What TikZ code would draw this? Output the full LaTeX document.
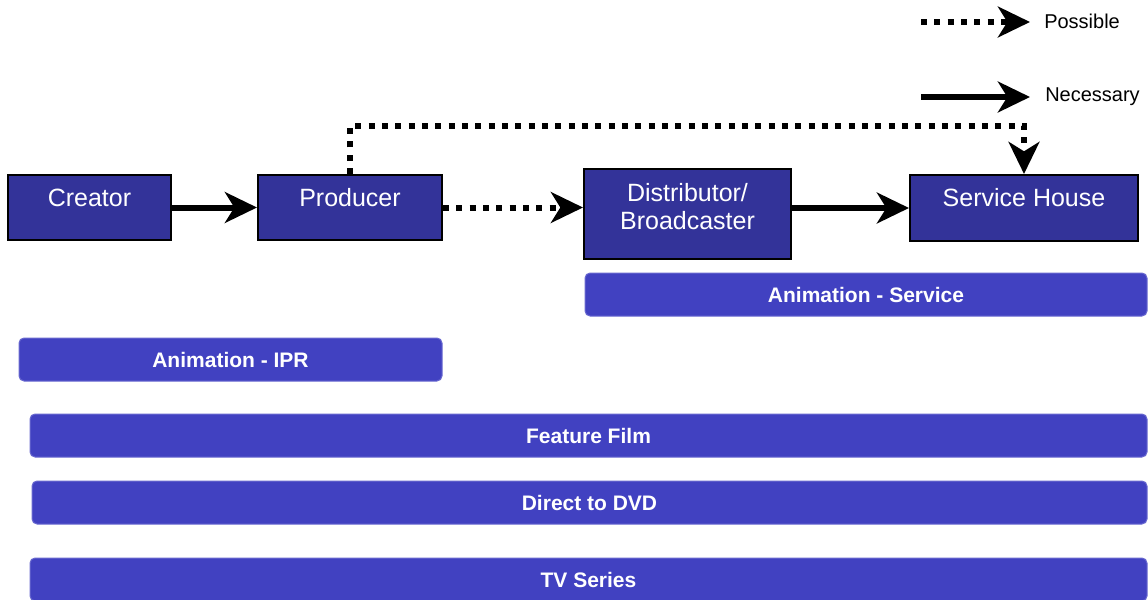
\documentclass[tikz,border=0pt]{standalone}
\usepackage{fontspec}
\setmainfont{Liberation Sans}
\usetikzlibrary{arrows.meta}

\definecolor{stageblue}{HTML}{333399}
\definecolor{barblue}{HTML}{4141C1}
\definecolor{baredge}{HTML}{6A6AD0}

\tikzset{
  stage/.style={draw=black, line width=1.5pt, fill=stageblue, text=white,
    font=\fontsize{18.75pt}{21pt}\selectfont, inner sep=0pt,
    text height=13.5pt, text depth=15.75pt, minimum height=48.75pt},
  bar/.style={draw=baredge, line width=0.75pt, fill=barblue, rounded corners=3.75pt,
    text=white, font=\fontsize{15.75pt}{18pt}\selectfont\bfseries,
    minimum height=32.25pt, inner sep=0pt},
  must/.style={line width=4.5pt, -{Stealth[length=24pt, width=23pt, inset=7pt]}},
  maybe/.style={must, dash pattern=on 4.5pt off 5.5pt},
  legendtext/.style={anchor=west, font=\fontsize{15pt}{18pt}\selectfont, inner sep=0pt}
}

\begin{document}
\begin{tikzpicture}[x=0.75pt, y=-0.75pt]
    \useasboundingbox (0,0) rectangle (1148,599);

    % Stages of the chain
    \node[stage, minimum width=122.25pt] (creator) at (89.5,207.5) {Creator};
    \node[stage, minimum width=138pt] (producer) at (350,207.5) {Producer};
    \node[stage, minimum width=155.25pt, minimum height=67.5pt, align=center,
          text height=33.75pt, text depth=10.5pt] (distributor) at (687.5,214) {Distributor/\\Broadcaster};
    \node[stage, minimum width=171pt, minimum height=49.5pt] (servicehouse) at (1024,208) {Service House};

    % Links between stages
    \draw[must] (creator.east) -- (producer.west);
    \draw[maybe] (producer.east) -- (producer.east -| distributor.west);
    \draw[must] (distributor.east |- servicehouse.west) -- (servicehouse.west);
    \draw[maybe] (producer.north) -- ++(0,-48) -| (servicehouse.north);

    % Legend
    \coordinate (possstart) at (921,22);
    \coordinate (possend) at (1030,22);
    \coordinate (necstart) at (921,97);
    \coordinate (necend) at (1030,97);
    \draw[maybe] (possstart) -- (possend);
    \draw[must] (necstart) -- (necend);
    \node[legendtext] (possible) at (1044,21) {Possible};
    \node[legendtext] (necessary) at (1045,97) {Necessary};

    % Segments
    \node[bar, minimum width=421.5pt] (animservice) at (866,294.5) {Animation - Service};
    \node[bar, minimum width=317.25pt] (animipr) at (230.5,359.5) {Animation - IPR};
    \node[bar, minimum width=837.75pt] (featurefilm) at (588.5,435.5) {Feature Film};
    \node[bar, minimum width=836.25pt] (directdvd) at (589.5,502.5) {Direct to DVD};
    \node[bar, minimum width=837.75pt] (tvseries) at (588.5,579.5) {TV Series};

\end{tikzpicture}
\end{document}
